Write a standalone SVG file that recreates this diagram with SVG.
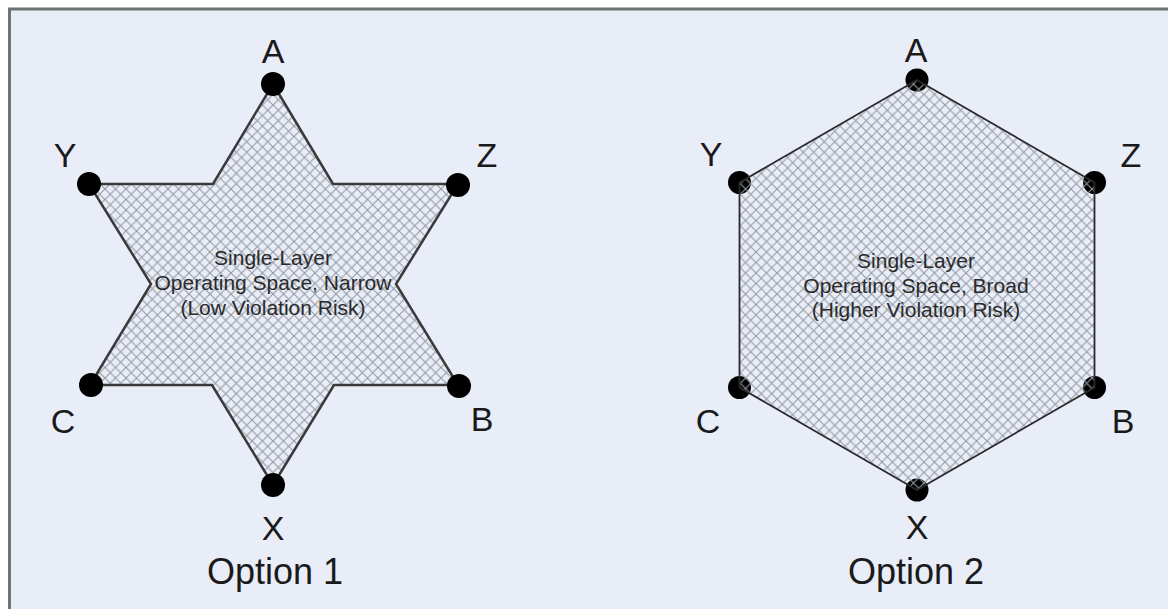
<svg xmlns="http://www.w3.org/2000/svg" width="1168" height="609" viewBox="0 0 1168 609">
<style>
.lbl{font-family:"Liberation Sans",Arial,sans-serif;font-size:34px;fill:#1a1a1a;text-anchor:middle}
.opt{font-family:"Liberation Sans",Arial,sans-serif;font-size:36px;fill:#1a1a1a;text-anchor:middle}
.mid{font-family:"Liberation Sans",Arial,sans-serif;font-size:21px;fill:#2a2a2a;text-anchor:middle}
.dot{fill:#000}
</style>
<defs>
<pattern id="hatch" patternUnits="userSpaceOnUse" width="10.5" height="10.5">
<path d="M0,0 L10.5,10.5 M10.5,0 L0,10.5" stroke="#959aa2" stroke-width="1.1" fill="none"/>
</pattern>
</defs>
<rect x="0" y="0" width="1168" height="609" fill="#ffffff"/>
<rect x="9.5" y="9" width="1170" height="620" fill="#e8edf7" stroke="#6e7373" stroke-width="3"/>
<g id="connectors"></g>
<g id="option1">
<polygon points="273,84 333,184 458,184 396,284 458,385 334,385 273,485 212,385 90,385 151,284 89,184 213,184" fill="url(#hatch)" stroke="#3a3a3a" stroke-width="2.5"/>
<circle class="dot" cx="273" cy="84" r="12"/>
<circle class="dot" cx="89" cy="184" r="12"/>
<circle class="dot" cx="458" cy="185" r="12"/>
<circle class="dot" cx="91" cy="385" r="12"/>
<circle class="dot" cx="459" cy="386" r="12"/>
<circle class="dot" cx="273" cy="485" r="12"/>
<text class="lbl" x="273" y="63">A</text>
<text class="lbl" x="65" y="167">Y</text>
<text class="lbl" x="487" y="167">Z</text>
<text class="lbl" x="63" y="433">C</text>
<text class="lbl" x="482" y="431">B</text>
<text class="lbl" x="273" y="540">X</text>
<text class="mid" x="273" y="265">Single-Layer</text>
<text class="mid" x="273" y="290">Operating Space, Narrow</text>
<text class="mid" x="273" y="315">(Low Violation Risk)</text>
<text class="opt" x="275" y="584">Option 1</text>
</g>
<g id="option2">
<circle class="dot" cx="917" cy="80" r="11.5"/>
<circle class="dot" cx="1094.5" cy="182.5" r="11.5"/>
<circle class="dot" cx="1094.5" cy="387.5" r="11.5"/>
<circle class="dot" cx="917" cy="490" r="11.5"/>
<circle class="dot" cx="739.5" cy="387.5" r="11.5"/>
<circle class="dot" cx="739.5" cy="182.5" r="11.5"/>
<polygon points="917,80 1094.5,182.5 1094.5,387.5 917,490 739.5,387.5 739.5,182.5" fill="url(#hatch)" stroke="#2a2a2a" stroke-width="1.8"/>
<text class="lbl" x="916" y="62">A</text>
<text class="lbl" x="711" y="166">Y</text>
<text class="lbl" x="1131" y="167">Z</text>
<text class="lbl" x="708" y="433">C</text>
<text class="lbl" x="1123" y="433">B</text>
<text class="lbl" x="917" y="539">X</text>
<text class="mid" x="916" y="268">Single-Layer</text>
<text class="mid" x="916" y="293">Operating Space, Broad</text>
<text class="mid" x="916" y="317">(Higher Violation Risk)</text>
<text class="opt" x="916" y="584">Option 2</text>
</g>
</svg>
